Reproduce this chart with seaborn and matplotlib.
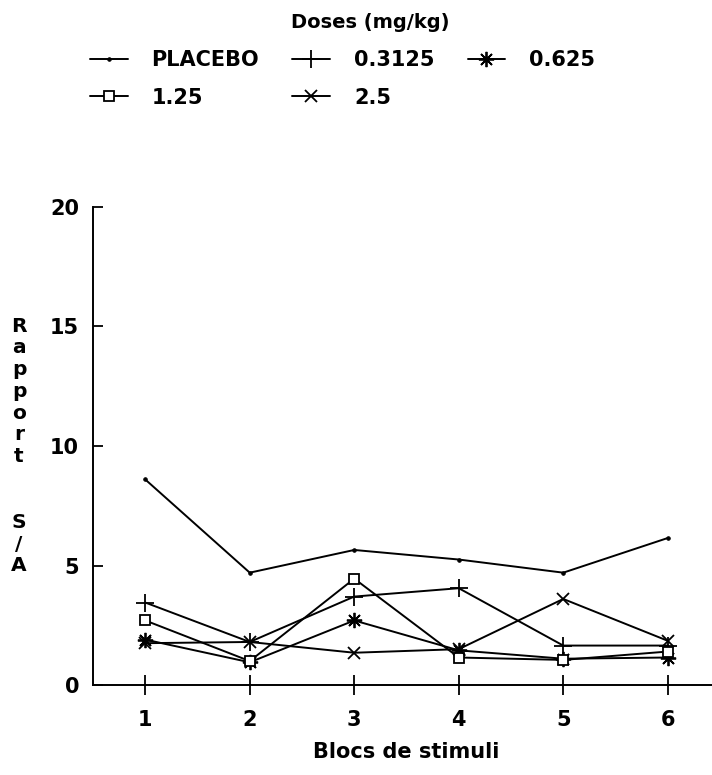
import matplotlib
matplotlib.use("Agg")
import matplotlib.pyplot as plt
import seaborn as sns

# Blocks of stimuli and S/A ratio per dose group
blocs = [1, 2, 3, 4, 5, 6]
placebo = [8.6, 4.7, 5.65, 5.25, 4.7, 6.15]
dose_03125 = [3.45, 1.8, 3.7, 4.05, 1.65, 1.65]
dose_0625 = [1.9, 0.95, 2.7, 1.45, 1.1, 1.15]
dose_125 = [2.7, 1.0, 4.45, 1.15, 1.05, 1.4]
dose_25 = [1.75, 1.8, 1.35, 1.5, 3.6, 1.85]

labels = ["PLACEBO", "0.3125", "0.625", "1.25", "2.5"]
series = [placebo, dose_03125, dose_0625, dose_125, dose_25]

sns.set_theme(style="white")
plt.rcParams["font.family"] = ["DejaVu Sans"]
plt.rcParams["font.weight"] = "bold"
plt.rcParams["text.color"] = "black"
plt.rcParams["xtick.color"] = "black"
plt.rcParams["ytick.color"] = "black"
plt.rcParams["axes.labelcolor"] = "black"

fig = plt.figure(figsize=(7.12, 7.75), dpi=100)
ax = fig.add_axes([93 / 712, 1 - 685 / 775, 627 / 712, 478 / 775])

styles = {
    "PLACEBO": dict(marker="o", markersize=2.5, markerfacecolor="black"),
    "0.3125": dict(marker="+", markersize=13, markeredgewidth=1.3),
    "0.625": dict(marker=(8, 2, 0), markersize=11, markeredgewidth=1.3),
    "1.25": dict(marker="s", markersize=7, markerfacecolor="white", markeredgewidth=1.3),
    "2.5": dict(marker="x", markersize=9, markeredgewidth=1.3),
}

handles = {}
for lab, vals in zip(labels, series):
    sns.lineplot(x=blocs, y=vals, ax=ax, color="black", linewidth=1.4,
                 markeredgecolor="black", label=lab, legend=False,
                 **styles[lab])
    handles[lab] = ax.lines[-1]

ax.set_xlim(0.5, 6.5)
ax.set_ylim(0, 20)
ax.set_xticks(blocs)
ax.set_yticks([0, 5, 10, 15, 20])
for s in ["top", "right"]:
    ax.spines[s].set_visible(False)
for s in ["left", "bottom"]:
    ax.spines[s].set_color("black")
    ax.spines[s].set_linewidth(1.4)
ax.tick_params(axis="x", direction="inout", length=14, width=1.3, color="black",
               labelcolor="black", labelsize=15, pad=11)
ax.tick_params(axis="y", direction="in", length=7, width=1.3, color="black",
               labelcolor="black", labelsize=15, pad=10)
ax.tick_params(left=True, bottom=True)
for t in ax.get_xticklabels() + ax.get_yticklabels():
    t.set_fontweight("bold")
ax.set_xlabel("Blocs de stimuli", fontsize=15, fontweight="bold", labelpad=9,
              color="black")
ax.set_ylabel("")

# Vertical stacked y-axis title
ychars = list("Rapport") + ["", ""] + list("S/A")
for i, ch in enumerate(ychars):
    if ch:
        fig.text(19 / 712, 1 - (326 + i * 21.8) / 775, ch, ha="center",
                 va="center", fontsize=14.5, fontweight="bold", color="black")

# Legend title and entries
fig.text(370 / 712, 1 - 22 / 775, "Doses (mg/kg)", ha="center", va="center",
         fontsize=14, fontweight="bold", color="black")
order = ["PLACEBO", "1.25", "0.3125", "2.5", "0.625"]
leg = fig.legend([handles[k] for k in order], order, ncol=3,
                 loc="upper left", bbox_to_anchor=(90 / 712, 1 - 50 / 775),
                 borderaxespad=0, borderpad=0,
                 frameon=False, handlelength=1.8,
                 columnspacing=1.6, labelspacing=0.85, handletextpad=1.15,
                 prop={"size": 15, "weight": "bold"})
for t in leg.get_texts():
    t.set_color("black")

fig.savefig("out.png", dpi=100)
